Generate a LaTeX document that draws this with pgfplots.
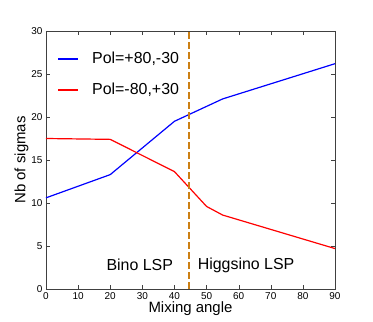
\documentclass[border=0pt]{standalone}
\usepackage{fontspec}
\setmainfont{Liberation Sans}
\usepackage{pgfplots}
\pgfplotsset{compat=1.18}

\definecolor{dashorange}{RGB}{204,128,20}

\begin{document}
\begin{tikzpicture}
\useasboundingbox (-46bp,-33bp) rectangle (327bp,289bp);
\begin{axis}[
    scale only axis,
    width=289bp, height=258bp,
    xmin=0, xmax=90, ymin=0, ymax=30,
    xtick={0,10,...,90}, ytick={0,5,...,30},
    tick align=inside,
    axis line style={black!75},
    tick style={black!75},
    major tick length=4bp,
    tick label style={font=\fontsize{10}{12}\selectfont},
    /pgf/number format/assume math mode=true,
    xlabel={Mixing angle},
    ylabel={Nb of sigmas},
    label style={font=\fontsize{15}{17}\selectfont},
    xlabel style={yshift=5bp},
    ylabel style={yshift=-4bp},
]
\addplot[blue, line width=1.2pt] coordinates {
    (0,10.6) (20,13.3) (40,19.5) (55,22.1) (90,26.2)};
\addplot[red, line width=1.2pt] coordinates {
    (0,17.5) (20,17.4) (40,13.65) (50,9.6) (55,8.6) (90,4.7)};
\addplot[dashorange, line width=1.3pt, dash pattern=on 7bp off 3bp]
    coordinates {(44.5,0) (44.5,30)};
% legend
\draw[blue, line width=1.3pt] (axis description cs:0.042,0.891) -- (axis description cs:0.111,0.891);
\node[anchor=west, inner sep=0pt, font=\fontsize{16}{18}\selectfont]
    at (axis description cs:0.159,0.891) {Pol=+80,-30};
\draw[red, line width=1.3pt] (axis description cs:0.042,0.771) -- (axis description cs:0.111,0.771);
\node[anchor=west, inner sep=0pt, font=\fontsize{16}{18}\selectfont]
    at (axis description cs:0.159,0.771) {Pol=-80,+30};
\node[font=\fontsize{16}{18}\selectfont] at (axis cs:29.2,2.8) {Bino LSP};
\node[font=\fontsize{16}{18}\selectfont] at (axis cs:62.3,2.8) {Higgsino LSP};
\end{axis}
\end{tikzpicture}
\end{document}
